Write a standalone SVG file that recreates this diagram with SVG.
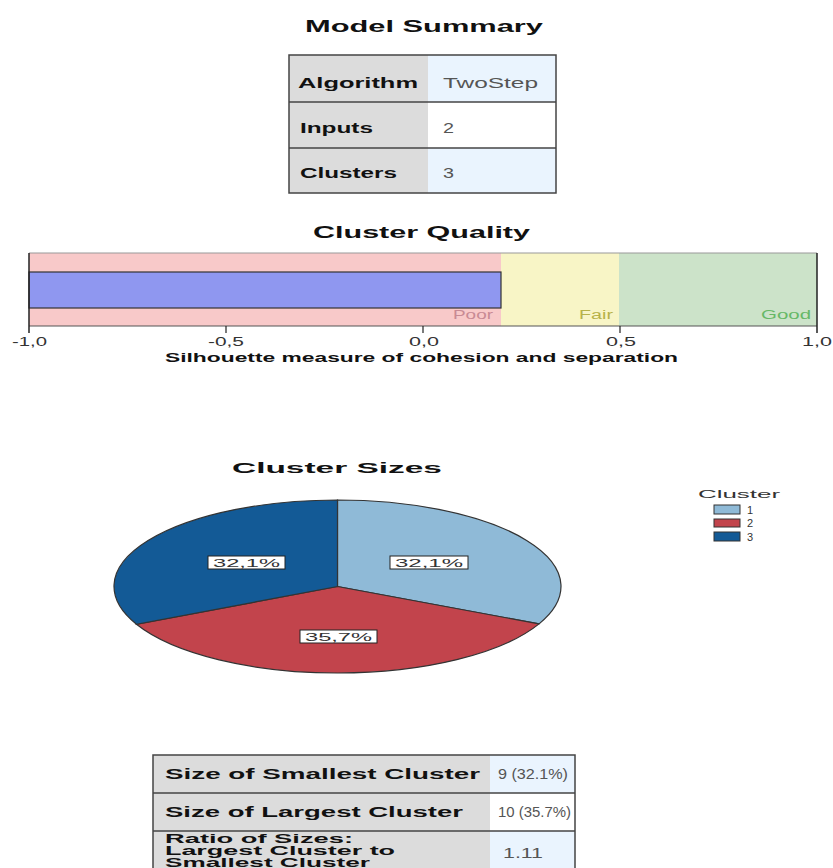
<svg xmlns="http://www.w3.org/2000/svg" width="833" height="868" viewBox="0 0 833 868">
<style>
  text { font-family: "Liberation Sans", Arial, sans-serif; }
  .title { font-size: 17px; font-weight: bold; fill: #111; }
  .lbl { font-size: 14px; font-weight: bold; fill: #111; }
  .lbl3 { font-size: 12px; font-weight: bold; fill: #111; }
  .val { font-size: 14px; fill: #555; }
  .key { fill: #dcdcdc; }
  .vb { fill: #eaf4fe; }
  .vw { fill: #ffffff; }
  .grid { stroke: #444; stroke-width: 1.5; fill: none; }
  .tick { font-size: 12px; fill: #333; }
  .pielbl { font-size: 11px; fill: #333; }
  .lbox { fill: #fff; stroke: #222; stroke-width: 1; }
</style>
<rect width="833" height="868" fill="#ffffff"/>

<g id="model-summary">
  <text class="title" x="305" y="32" textLength="238" lengthAdjust="spacingAndGlyphs">Model Summary</text>
  <rect class="key" x="289" y="55" width="139" height="138"/>
  <rect class="vb" x="428" y="55" width="128" height="47"/>
  <rect class="vw" x="428" y="102" width="128" height="46"/>
  <rect class="vb" x="428" y="148" width="128" height="45"/>
  <rect class="grid" x="289" y="55" width="267" height="138"/>
  <line class="grid" x1="289" y1="102" x2="556" y2="102"/>
  <line class="grid" x1="289" y1="148" x2="556" y2="148"/>
  <text class="lbl" x="298" y="88" textLength="120" lengthAdjust="spacingAndGlyphs">Algorithm</text>
  <text class="val" x="443" y="88" textLength="95" lengthAdjust="spacingAndGlyphs">TwoStep</text>
  <text class="lbl" x="300" y="133" textLength="73" lengthAdjust="spacingAndGlyphs">Inputs</text>
  <text class="val" x="443" y="133" textLength="11" lengthAdjust="spacingAndGlyphs">2</text>
  <text class="lbl" x="300" y="178" textLength="97" lengthAdjust="spacingAndGlyphs">Clusters</text>
  <text class="val" x="443" y="178" textLength="11" lengthAdjust="spacingAndGlyphs">3</text>
</g>

<g id="cluster-quality">
  <text class="title" x="313" y="238" textLength="217" lengthAdjust="spacingAndGlyphs">Cluster Quality</text>
  <rect x="29" y="253" width="472" height="73" fill="#f8c9c9"/>
  <rect x="501" y="253" width="118" height="73" fill="#f8f5c6"/>
  <rect x="619" y="253" width="198" height="73" fill="#cce3c9"/>
  <line x1="29" y1="253" x2="817" y2="253" stroke="#999" stroke-width="1"/>
  <line x1="29" y1="326" x2="817" y2="326" stroke="#555" stroke-width="1.2"/>
  <rect x="29" y="272" width="472" height="36" fill="#8f97f0" stroke="#333" stroke-width="1.2"/>
  <line x1="29" y1="253" x2="29" y2="333" stroke="#222" stroke-width="1.5"/>
  <line x1="817" y1="253" x2="817" y2="333" stroke="#222" stroke-width="1.5"/>
  <line x1="226" y1="326" x2="226" y2="333" stroke="#222" stroke-width="1.2"/>
  <line x1="423" y1="326" x2="423" y2="333" stroke="#222" stroke-width="1.2"/>
  <line x1="620" y1="326" x2="620" y2="333" stroke="#222" stroke-width="1.2"/>
  <text x="453" y="319" font-size="12" fill="#c88a94" textLength="40" lengthAdjust="spacingAndGlyphs">Poor</text>
  <text x="579" y="319" font-size="12" fill="#b7b24a" textLength="34" lengthAdjust="spacingAndGlyphs">Fair</text>
  <text x="761" y="319" font-size="12" fill="#66b866" textLength="50" lengthAdjust="spacingAndGlyphs">Good</text>
  <text class="tick" x="12" y="346" textLength="35" lengthAdjust="spacingAndGlyphs">-1,0</text>
  <text class="tick" x="208" y="346" textLength="36" lengthAdjust="spacingAndGlyphs">-0,5</text>
  <text class="tick" x="409" y="346" textLength="30" lengthAdjust="spacingAndGlyphs">0,0</text>
  <text class="tick" x="606" y="346" textLength="30" lengthAdjust="spacingAndGlyphs">0,5</text>
  <text class="tick" x="802" y="346" textLength="30" lengthAdjust="spacingAndGlyphs">1,0</text>
  <text x="165" y="362" font-size="12" font-weight="bold" fill="#111" textLength="513" lengthAdjust="spacingAndGlyphs">Silhouette measure of cohesion and separation</text>
</g>

<g id="cluster-sizes">
  <text x="232" y="473" font-size="15" font-weight="bold" fill="#111" textLength="210" lengthAdjust="spacingAndGlyphs">Cluster Sizes</text>
  <g stroke="#333" stroke-width="1.2">
    <path d="M337.5,586.5 L337.5,500 A223.5,86.5 0 0 1 539.05,623.88 Z" fill="#8fbad7"/>
    <path d="M337.5,586.5 L539.05,623.88 A223.5,86.5 0 0 1 136.44,624.28 Z" fill="#c2444c"/>
    <path d="M337.5,586.5 L136.44,624.28 A223.5,86.5 0 0 1 337.5,500 Z" fill="#135a96"/>
  </g>
  <rect class="lbox" x="208" y="556" width="77" height="13"/>
  <text class="pielbl" x="213" y="567" textLength="67" lengthAdjust="spacingAndGlyphs">32,1%</text>
  <rect class="lbox" x="390" y="556" width="78" height="13"/>
  <text class="pielbl" x="395" y="567" textLength="68" lengthAdjust="spacingAndGlyphs">32,1%</text>
  <rect class="lbox" x="300" y="630" width="77" height="13"/>
  <text class="pielbl" x="305" y="641" textLength="67" lengthAdjust="spacingAndGlyphs">35,7%</text>
</g>

<g id="legend">
  <text x="698" y="498" font-size="11" fill="#333" textLength="82" lengthAdjust="spacingAndGlyphs">Cluster</text>
  <rect x="714" y="505" width="26" height="9" fill="#8fbad7" stroke="#333" stroke-width="1"/>
  <rect x="714" y="519" width="26" height="8" fill="#c2444c" stroke="#333" stroke-width="1"/>
  <rect x="714" y="532" width="26" height="9" fill="#135a96" stroke="#333" stroke-width="1"/>
  <text x="747" y="514" font-size="11" fill="#333">1</text>
  <text x="747" y="527" font-size="11" fill="#333">2</text>
  <text x="747" y="541" font-size="11" fill="#333">3</text>
</g>

<g id="size-table">
  <rect class="key" x="153" y="755" width="337" height="120"/>
  <rect class="vb" x="490" y="755" width="85" height="38"/>
  <rect class="vw" x="490" y="793" width="85" height="38"/>
  <rect class="vb" x="490" y="831" width="85" height="44"/>
  <path class="grid" d="M153,875 L153,755 L575,755 L575,875"/>
  <line class="grid" x1="153" y1="793" x2="575" y2="793"/>
  <line class="grid" x1="153" y1="831" x2="575" y2="831"/>
  <text class="lbl" x="165" y="779" textLength="315" lengthAdjust="spacingAndGlyphs">Size of Smallest Cluster</text>
  <text class="val" x="498" y="779" textLength="70" lengthAdjust="spacingAndGlyphs">9 (32.1%)</text>
  <text class="lbl" x="165" y="817" textLength="298" lengthAdjust="spacingAndGlyphs">Size of Largest Cluster</text>
  <text class="val" x="498" y="817" textLength="73" lengthAdjust="spacingAndGlyphs">10 (35.7%)</text>
  <text class="lbl3" x="165" y="843" textLength="188" lengthAdjust="spacingAndGlyphs">Ratio of Sizes:</text>
  <text class="lbl3" x="165" y="855" textLength="230" lengthAdjust="spacingAndGlyphs">Largest Cluster to</text>
  <text class="lbl3" x="165" y="867" textLength="205" lengthAdjust="spacingAndGlyphs">Smallest Cluster</text>
  <text class="val" x="503" y="858" textLength="40" lengthAdjust="spacingAndGlyphs">1.11</text>
</g>
</svg>
